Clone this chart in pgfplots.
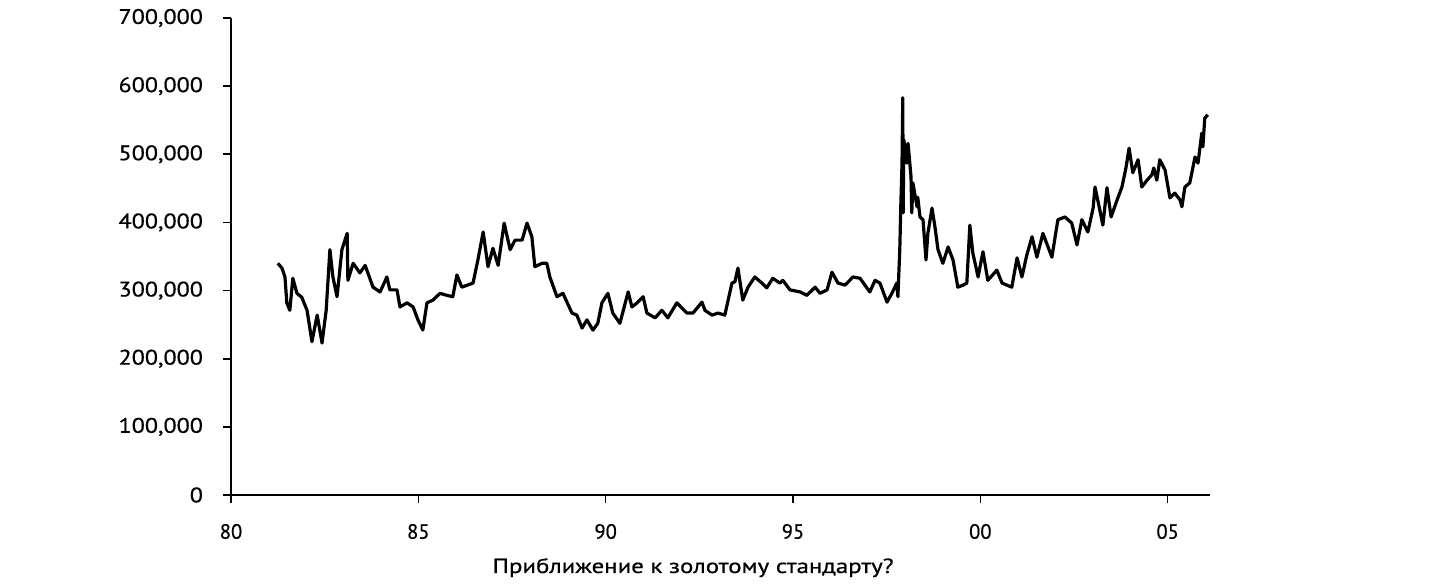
\documentclass[border=0pt]{standalone}
\usepackage{fontspec}
\setmainfont[FakeBold=0.6]{PT Sans}
\newfontfamily\ylabfont[FakeStretch=1.15, FakeBold=0.6]{PT Sans}
\newfontfamily\ttlfont[FakeStretch=1.22, FakeBold=0.6]{PT Sans}
\usepackage{pgfplots}
\pgfplotsset{compat=1.18}

\begin{document}
\begin{tikzpicture}
  \useasboundingbox (0,0) rectangle (721bp,293.5bp);
  \begin{axis}[
      at={(115.5bp,46bp)}, anchor=south west,
      scale only axis,
      width=489.5bp, height=238.5bp,
      xmin=80, xmax=106.13,
      ymin=0, ymax=700000,
      axis lines=left,
      axis line style={-, line width=1.4bp},
      tick align=outside,
      major tick length=4bp,
      tick style={line width=0.8bp, black},
      xtick={80,85,90,95,100,105},
      xticklabels={80,85,90,95,00,05},
      ytick={0,100000,...,700000},
      scaled y ticks=false,
      /pgf/number format/assume math mode=true,
      /pgf/number format/fixed,
      /pgf/number format/precision=0,
      /pgf/number format/1000 sep={,},
      yticklabel style={font=\ylabfont\fontsize{10.5bp}{12bp}\selectfont, xshift=-6.5bp},
      xticklabel style={font=\fontsize{10.3bp}{12bp}\selectfont, yshift=-7bp},
      xlabel={Приближение к золотому стандарту?},
      xlabel style={font=\ttlfont\fontsize{10.2bp}{12bp}\selectfont,
        at={(axis description cs:0.472,0)}, anchor=base, yshift=-39bp},
      clip=false,
    ]
    \addplot[black, line width=1.6bp, line join=round] coordinates {
      (81.25,340000) (81.36,333000) (81.44,320000) (81.49,282000) (81.57,271000)
      (81.65,318000) (81.76,296000) (81.89,290000) (82.03,271000) (82.16,225000)
      (82.30,264000) (82.43,223000) (82.54,271000) (82.64,360000) (82.72,320000)
      (82.83,291000) (82.96,360000) (83.10,384000) (83.12,315000) (83.26,340000)
      (83.44,326000) (83.58,337000) (83.79,305000) (83.98,298000) (84.16,320000)
      (84.24,301000) (84.43,301000) (84.51,276000) (84.70,282000) (84.86,276000)
      (84.99,257000) (85.12,242000) (85.23,282000) (85.39,286000) (85.58,296000)
      (85.76,293000) (85.92,291000) (86.03,323000) (86.16,305000) (86.46,311000)
      (86.59,345000) (86.73,386000) (86.86,335000) (86.99,362000) (87.13,337000)
      (87.29,399000) (87.45,360000) (87.58,374000) (87.77,374000) (87.90,399000)
      (88.03,379000) (88.11,335000) (88.30,340000) (88.43,340000) (88.51,320000)
      (88.70,291000) (88.86,296000) (89.10,267000) (89.23,264000) (89.37,245000)
      (89.50,257000) (89.66,242000) (89.79,252000) (89.90,282000) (90.06,296000)
      (90.19,267000) (90.38,252000) (90.60,298000) (90.70,276000) (90.84,282000)
      (91.00,291000) (91.10,267000) (91.32,260000) (91.50,271000) (91.66,260000)
      (91.90,282000) (92.17,267000) (92.33,267000) (92.57,283000) (92.65,271000)
      (92.84,264000) (93.00,267000) (93.18,264000) (93.37,311000) (93.45,313000)
      (93.53,333000) (93.66,286000) (93.80,305000) (93.98,320000) (94.17,311000)
      (94.30,304000) (94.46,318000) (94.65,311000) (94.73,315000) (94.92,301000)
      (95.19,298000) (95.37,293000) (95.59,305000) (95.72,296000) (95.91,301000)
      (96.04,327000) (96.20,311000) (96.39,308000) (96.60,320000) (96.79,318000)
      (96.92,308000) (97.05,298000) (97.19,315000) (97.32,311000) (97.51,283000)
      (97.64,296000) (97.77,311000) (97.80,291000) (97.85,360000) (97.88,430000)
      (97.91,487000) (97.93,583000) (97.94,414000) (97.96,521000) (98.04,487000)
      (98.07,516000) (98.15,467000) (98.17,414000) (98.20,458000) (98.31,423000)
      (98.33,437000) (98.39,408000) (98.47,404000) (98.55,345000) (98.60,384000)
      (98.71,421000) (98.79,393000) (98.87,360000) (99.00,340000) (99.14,364000)
      (99.27,345000) (99.40,305000) (99.54,308000) (99.64,311000) (99.72,396000)
      (99.80,355000) (99.94,320000) (100.07,357000) (100.20,315000) (100.44,330000)
      (100.58,311000) (100.84,305000) (100.98,348000) (101.11,320000) (101.24,352000)
      (101.38,379000) (101.51,349000) (101.67,384000) (101.91,349000) (102.07,404000)
      (102.26,408000) (102.44,399000) (102.58,367000) (102.71,404000) (102.87,386000)
      (103.01,421000) (103.06,452000) (103.19,418000) (103.27,396000) (103.38,451000)
      (103.49,408000) (103.65,433000) (103.78,452000) (103.89,481000) (103.97,509000)
      (104.07,473000) (104.21,492000) (104.31,452000) (104.45,462000) (104.58,470000)
      (104.63,480000) (104.71,462000) (104.79,492000) (104.93,477000) (105.06,436000)
      (105.19,443000) (105.33,433000) (105.38,423000) (105.46,452000) (105.59,458000)
      (105.73,496000) (105.81,487000) (105.91,531000) (105.94,511000) (105.99,553000)
      (106.07,558000)
    };
  \end{axis}
\end{tikzpicture}
\end{document}
